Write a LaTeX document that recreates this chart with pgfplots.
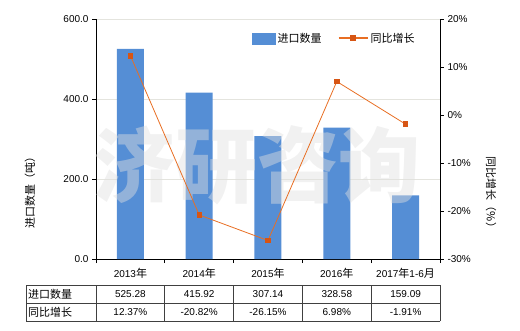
\documentclass[border=0pt]{standalone}
\usepackage{pgfplots}
\pgfplotsset{compat=1.18}
\usepackage{fontspec}
\setmainfont{Liberation Sans}
\newfontfamily\cjk{Noto Sans CJK SC}[Scale=1.1]
\newfontfamily\cjkwm{Noto Sans CJK SC}
\definecolor{barblue}{RGB}{85,142,213}
\definecolor{lineorange}{RGB}{232,110,35}
\definecolor{markorange}{RGB}{215,85,20}
\definecolor{gridc}{RGB}{228,228,222}
\definecolor{tablec}{RGB}{64,64,64}
\begin{document}
\begin{tikzpicture}[x=1pt,y=1pt]
\path[use as bounding box] (0,0) rectangle (520,330);
\begin{axis}[
  at={(96pt,71pt)}, anchor=south west,
  scale only axis, width=344pt, height=240pt,
  xmin=-0.5, xmax=4.5, ymin=0, ymax=600,
  axis x line*=bottom, axis y line*=left,
  axis line style={black, line width=0.8pt, -},
  ytick={0,200,400,600},
  ymajorgrids, grid style={gridc, line width=0.7pt},
  xtick={0,1,2,3,4},
  xticklabels={2013{\cjk 年},2014{\cjk 年},2015{\cjk 年},2016{\cjk 年},2017{\cjk 年}1-6{\cjk 月}},
  minor xtick={-0.5,0.5,1.5,2.5,3.5,4.5},
  major x tick style={draw=none},
  minor x tick style={black, line width=0.8pt},
  y tick style={black, line width=0.8pt},
  tick align=outside, major tick length=4pt, minor tick length=4pt,
  xticklabel style={yshift=-1.5pt},
  yticklabel style={/pgf/number format/.cd, fixed, fixed zerofill, precision=1, assume math mode=true},
  ybar, bar width=27pt,
]
\addplot[fill=barblue, draw=none] coordinates {(0,525.28) (1,415.92) (2,307.14) (3,328.58) (4,159.09)};
\end{axis}
% watermark
\node[text=white!88!black, opacity=0.45, font=\cjkwm\bfseries\fontsize{82}{90}\selectfont, inner sep=0pt] at (257,165) {济研咨询};
\begin{axis}[
  at={(96pt,71pt)}, anchor=south west,
  scale only axis, width=344pt, height=240pt,
  xmin=-0.5, xmax=4.5, ymin=-30, ymax=20,
  axis x line=none, axis y line*=right,
  axis line style={black, line width=0.8pt, -},
  ytick={-30,-20,-10,0,10,20},
  y tick style={black, line width=0.8pt},
  tick align=outside, major tick length=4pt,
  yticklabel={\pgfmathprintnumber[assume math mode=true]{\tick}\%},
  legend style={draw=none, fill=none, at={(0.445,0.92)}, anchor=west, legend columns=2,
    font=\cjk, /tikz/every even column/.append style={column sep=14pt}},
  legend cell align=left,
]
\addlegendimage{legend image code/.code={\fill[barblue] (0pt,-5.5pt) rectangle (23pt,5.5pt);}}
\addlegendentry{进口数量}
\addplot[lineorange, line width=0.8pt, mark=square*, mark size=2.3pt,
  mark options={fill=markorange, draw=markorange},
  legend image code/.code={\draw[lineorange, line width=2pt] (0pt,0pt) -- (29pt,0pt);
    \fill[markorange] (12pt,-2.5pt) rectangle (17pt,2.5pt);}]
  coordinates {(0,12.37) (1,-20.82) (2,-26.15) (3,6.98) (4,-1.91)};
\addlegendentry{同比增长}
\end{axis}
% axis titles
\node[rotate=90, font=\cjk] at (30,140) {进口数量（吨）};
\node[rotate=-90, font=\cjk] at (491,135) {同比增长（\%）};
% data table
\draw[tablec, line width=0.8pt] (26,45) -- (440,45) (26,27) -- (440,27) (26,9) -- (440,9);
\foreach \x in {26,96,164.8,233.6,302.4,371.2,440} {\draw[tablec, line width=0.8pt] (\x,9) -- (\x,45);}
\node[anchor=west, font=\cjk, inner sep=0pt] at (28,36) {进口数量};
\node[anchor=west, font=\cjk, inner sep=0pt] at (28,18) {同比增长};
\foreach \v [count=\i from 0] in {525.28,415.92,307.14,328.58,159.09} {\node at (130.4+68.8*\i,36) {\v};}
\foreach \v [count=\i from 0] in {12.37\%,-20.82\%,-26.15\%,6.98\%,-1.91\%} {\node at (130.4+68.8*\i,18) {\v};}
\end{tikzpicture}
\end{document}
